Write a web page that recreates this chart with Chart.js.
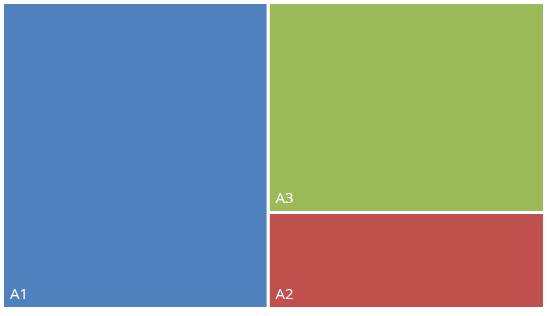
<!DOCTYPE html>
<html>
<head>
<meta charset="utf-8">
<script src="https://cdn.jsdelivr.net/npm/chart.js@4/dist/chart.umd.min.js"></script>
<style>
  html, body { margin: 0; padding: 0; background: #fff; }
  #wrap { width: 550px; height: 316px; }
</style>
</head>
<body>
<div id="wrap"><canvas id="myChart"></canvas></div>
<script>
const categories = ["A1", "A2", "A3"];
const values = [49, 16, 35];
const colors = ["#4F81BD", "#C0504D", "#9BBB59"];

const ctx = document.getElementById("myChart").getContext("2d");

// worst aspect ratio of a row laid along side s
function worst(row, s) {
    let sum = 0, max = 0, min = Infinity;
    for (let i = 0; i < row.length; i++) {
        sum += row[i].area;
        max = Math.max(max, row[i].area);
        min = Math.min(min, row[i].area);
    }
    return Math.max(s * s * max / (sum * sum), (sum * sum) / (s * s * min));
}

// squarified treemap layout in data units
function squarify(items, rect) {
    let out = [];
    let rest = items.slice();
    while (rest.length) {
        let s = Math.min(rect.w, rect.h);
        let row = [rest[0]];
        let i = 1;
        while (i < rest.length && worst(row.concat([rest[i]]), s) <= worst(row, s)) {
            row.push(rest[i]);
            i++;
        }
        rest = rest.slice(i);
        let sum = row.reduce((a, r) => a + r.area, 0);
        if (rect.w >= rect.h) {
            let cw = sum / rect.h;
            let yy = rect.y;
            row.forEach(r => {
                let hh = r.area / cw;
                out.push(Object.assign({}, r, { x0: rect.x, x1: rect.x + cw, y0: yy, y1: yy + hh }));
                yy += hh;
            });
            rect = { x: rect.x + cw, y: rect.y, w: rect.w - cw, h: rect.h };
        } else {
            let rh = sum / rect.w;
            let xx = rect.x;
            row.forEach(r => {
                let ww = r.area / rh;
                out.push(Object.assign({}, r, { x0: xx, x1: xx + ww, y0: rect.y, y1: rect.y + rh }));
                xx += ww;
            });
            rect = { x: rect.x, y: rect.y + rh, w: rect.w, h: rect.h - rh };
        }
    }
    return out;
}

const cellLabels = {
    id: "cellLabels",
    afterDatasetsDraw(chart) {
        const c = chart.ctx;
        const xs = chart.scales.x, ys = chart.scales.y;
        c.save();
        c.fillStyle = "#ffffff";
        c.font = "15px 'Open Sans', sans-serif";
        c.textBaseline = "alphabetic";
        chart.data.datasets.forEach(ds => {
            const px = xs.getPixelForValue(ds.cell.x0);
            const py = ys.getPixelForValue(ds.cell.y1);
            c.fillText(ds.label, px + 7.5, py - 9.5);
        });
        c.restore();
    }
};

const myChart = new Chart(ctx, {
    type: "scatter",
    data: { datasets: [] },
    options: {
        responsive: true,
        maintainAspectRatio: false,
        animation: false,
        layout: { padding: { left: 2.5, top: 2.5, right: 5.5, bottom: 7.5 } },
        plugins: { legend: { display: false }, tooltip: { enabled: false } },
        scales: {
            x: { type: "linear", display: false, min: 0, max: 1 },
            y: { type: "linear", display: false, min: 0, max: 1, reverse: true }
        }
    },
    plugins: [cellLabels]
});

function buildCells() {
    const W = myChart.chartArea.right - myChart.chartArea.left;
    const H = myChart.chartArea.bottom - myChart.chartArea.top;
    const total = values.reduce((a, b) => a + b, 0);
    let items = [];
    for (let i = 0; i < categories.length; i++) {
        items.push({ name: categories[i], value: values[i], color: colors[i], area: values[i] / total * W * H });
    }
    items.sort((a, b) => b.value - a.value);
    const cells = squarify(items, { x: 0, y: 0, w: W, h: H });

    myChart.options.scales.x.max = W;
    myChart.options.scales.y.max = H;
    myChart.data.datasets = cells.map(cell => ({
        label: cell.name,
        cell: cell,
        data: [
            { x: cell.x0, y: cell.y0 },
            { x: cell.x1, y: cell.y0 },
            { x: cell.x1, y: cell.y1 },
            { x: cell.x0, y: cell.y1 },
            { x: cell.x0, y: cell.y0 }
        ],
        showLine: true,
        fill: "shape",
        backgroundColor: cell.color,
        borderColor: "#ffffff",
        borderWidth: 3,
        borderJoinStyle: "miter",
        pointRadius: 0,
        tension: 0,
        clip: false
    }));
    myChart.update();
}

buildCells();
</script>
</body>
</html>
